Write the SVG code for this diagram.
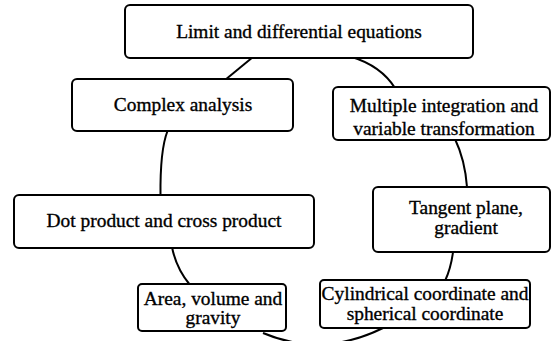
<svg xmlns="http://www.w3.org/2000/svg" width="553" height="341" viewBox="0 0 553 341">
<style>
.box{fill:#fff;stroke:#000;stroke-width:2}
.con{fill:none;stroke:#000;stroke-width:2}
.t{font-family:'Liberation Serif','Times New Roman',serif;font-size:19.4px;fill:#000;stroke:#000;stroke-width:0.35;text-anchor:middle}
</style>
<rect width="553" height="341" fill="#fff"/>
<g id="connectors">
<path class="con" d="M253,57 L225,80"/>
<path class="con" d="M352,57 Q381,66 395,88"/>
<path class="con" d="M167.5,131 Q160,150 160.5,196"/>
<path class="con" d="M455,139 Q465,160 467,187"/>
<path class="con" d="M172,247 Q176,268 190,285"/>
<path class="con" d="M453,252 Q451,268 445,281"/>
<path class="con" d="M263,333 Q322,358 383,328"/>
</g>
<g id="limit">
<rect class="box" x="125" y="5" width="348" height="53" rx="5"/>
<text class="t" x="299" y="38">Limit and differential equations</text>
</g>
<g id="complex">
<rect class="box" x="72" y="79" width="221" height="52" rx="5"/>
<text class="t" x="183" y="111">Complex analysis</text>
</g>
<g id="multiple">
<rect class="box" x="333" y="87" width="217" height="53" rx="5"/>
<text class="t" x="444" y="112">Multiple integration and</text>
<text class="t" x="444" y="135">variable transformation</text>
</g>
<g id="dot">
<rect class="box" x="14" y="195" width="300" height="53" rx="5"/>
<text class="t" x="164" y="227">Dot product and cross product</text>
</g>
<g id="tangent">
<rect class="box" x="373" y="187" width="177" height="65" rx="5"/>
<text class="t" x="466" y="214">Tangent plane,</text>
<text class="t" x="466" y="234">gradient</text>
</g>
<g id="area">
<rect class="box" x="138" y="284" width="148" height="47" rx="4"/>
<text class="t" x="213" y="305">Area, volume and</text>
<text class="t" x="213" y="324">gravity</text>
</g>
<g id="cylindrical">
<rect class="box" x="320" y="280" width="210" height="48" rx="4"/>
<text class="t" x="425" y="300">Cylindrical coordinate and</text>
<text class="t" x="425" y="320">spherical coordinate</text>
</g>
</svg>
